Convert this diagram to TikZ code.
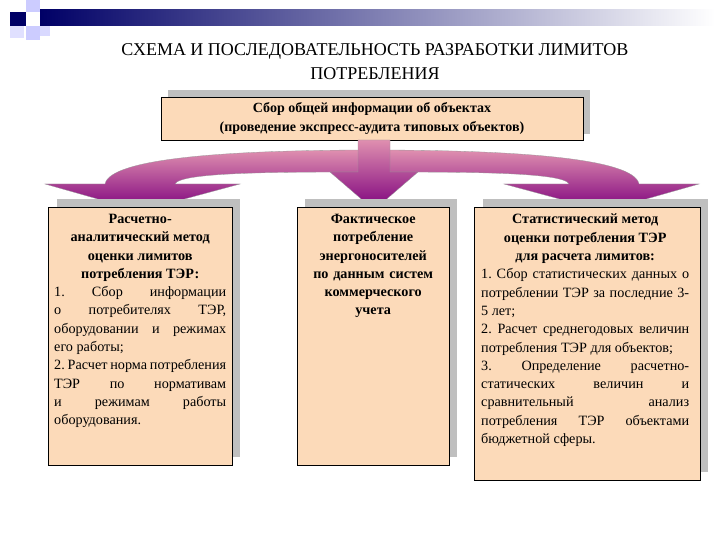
\documentclass[tikz,border=0pt]{standalone}
\usepackage{fontspec}
\setmainfont{Liberation Serif}
\newcommand{\jreset}{\leftskip=0pt\rightskip=0pt\parfillskip=0pt plus 1fil\relax}
\begin{document}
\begin{tikzpicture}[x=1pt,y=-1pt,
  shade/.style={fill=black!25},
  bfill/.style={fill=orange!25!white!95!brown},
  arr/.style={top color=violet!25!pink,bottom color=violet!60!magenta!70!black,draw=black!40,line width=0.3pt},
  txt/.style={font=\fontsize{14.2}{18.3}\selectfont,align=justify,anchor=north west,inner sep=0pt}]
\useasboundingbox (0,0) rectangle (720,540);
% decoration
\shade[left color=blue!40!black,right color=white] (40,10) rectangle (715,26);
\fill[blue!40!black] (10,12) rectangle (26,26);
\fill[blue!20!white] (26,0) rectangle (40,12);
\fill[blue!20!white] (26,26) rectangle (40,40);
\fill[blue!12!white] (10,26) rectangle (24,38);
\fill[blue!15!white] (40,26) rectangle (50,36);
% title
\node[font=\fontsize{18}{24}\selectfont,align=center] (title) at (375,62) {СХЕМА И ПОСЛЕДОВАТЕЛЬНОСТЬ РАЗРАБОТКИ ЛИМИТОВ\\ПОТРЕБЛЕНИЯ};
% top box
\fill[shade] (168,90) rectangle (590,134);
\fill[bfill] (161,97) rectangle (583,140);
\draw[line width=0.8pt] (161,97) rectangle (583,140);
\node[font=\bfseries\fontsize{14}{19}\selectfont,align=center] (top) at (372,118.5) {Сбор общей информации об объектах\\(проведение экспресс-аудита типовых объектов)};
% arrows
\path[arr] (372,150) .. controls (230,150) and (110,158) .. (105,184) -- (45,184) -- (140,211) -- (240,184) -- (175,184) .. controls (180,172) and (280,172) .. (372,172) -- cycle;
\path[arr] (372,150) .. controls (514,150) and (634,158) .. (639,184) -- (699,184) -- (604,211) -- (504,184) -- (569,184) .. controls (564,172) and (464,172) .. (372,172) -- cycle;
\path[arr] (358,140) -- (390,140) -- (390,172) -- (418,172) -- (374,210) -- (330,172) -- (358,172) -- cycle;
% box 1
\fill[shade] (57,199) rectangle (240,457);
\fill[bfill] (48,207) rectangle (232,465);
\draw[line width=0.8pt] (48,207) rectangle (232,465);
\node[txt,text width=172] (b1) at (54,214) {{\centering\bfseries Расчетно-\\аналитический метод\\оценки лимитов\\потребления ТЭР:\par}\jreset
1.~Сбор информации о потребителях ТЭР, оборудовании и режимах его работы;\par
2.~Расчет норма потребления ТЭР по нормативам и режимам работы оборудования.\par};
% box 2
\fill[shade] (305,199) rectangle (457,457);
\fill[bfill] (297,207) rectangle (449,465);
\draw[line width=0.8pt] (297,207) rectangle (449,465);
\node[txt,text width=146,align=center,font=\bfseries\fontsize{14.2}{18.3}\selectfont] (b2) at (300,214) {Фактическое\\потребление\\энергоносителей\\по данным систем\\коммерческого\\учета};
% box 3
\fill[shade] (483,199) rectangle (708,472);
\fill[bfill] (474,207) rectangle (700,480);
\draw[line width=0.8pt] (474,207) rectangle (700,480);
\node[txt,text width=208] (b3) at (481,214) {{\centering\bfseries Статистический метод\\оценки потребления ТЭР\\для расчета лимитов:\par}\jreset
1.~Сбор статистических данных о потреблении ТЭР за последние 3-5 лет;\par
2.~Расчет среднегодовых величин потребления ТЭР для объектов;\par
3.~Определение расчетно-статических величин и сравнительный анализ потребления ТЭР объектами бюджетной сферы.\par};
\end{tikzpicture}
\end{document}
